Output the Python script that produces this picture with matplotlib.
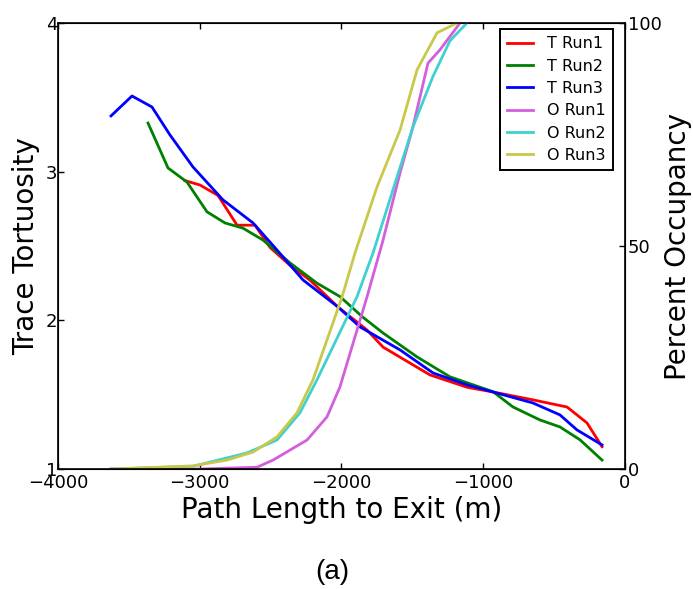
import matplotlib
matplotlib.use("Agg")
import matplotlib.pyplot as plt

# Tortuosity series
t1_x = [-3104, -2998, -2871, -2737, -2610, -2504, -2363, -2222, -2025, -1820, -1707, -1376, -1115, -931, -649, -409, -268, -162]
t1_y = [2.94, 2.91, 2.84, 2.64, 2.64, 2.49, 2.37, 2.27, 2.09, 1.935, 1.82, 1.633, 1.55, 1.518, 1.465, 1.417, 1.31, 1.15]
t2_x = [-3365, -3224, -3090, -2949, -2822, -2695, -2554, -2363, -2173, -2011, -1848, -1707, -1467, -1235, -931, -790, -600, -459, -317, -162]
t2_y = [3.327, 3.025, 2.93, 2.73, 2.655, 2.62, 2.54, 2.386, 2.25, 2.16, 2.02, 1.915, 1.754, 1.62, 1.52, 1.417, 1.33, 1.283, 1.196, 1.06]
t3_x = [-3626, -3478, -3337, -3210, -3048, -2836, -2624, -2455, -2272, -2025, -1870, -1587, -1354, -1115, -931, -649, -459, -339, -162]
t3_y = [3.375, 3.509, 3.435, 3.247, 3.032, 2.81, 2.655, 2.473, 2.272, 2.09, 1.956, 1.801, 1.646, 1.566, 1.518, 1.444, 1.364, 1.263, 1.162]

# Occupancy series
o1_x = [-3626, -2998, -2596, -2483, -2243, -2102, -2011, -1820, -1707, -1587, -1496, -1390, -1305, -1164]
o1_y = [0, 0, 0.4, 2, 6.5, 11.7, 18.4, 38.6, 51.3, 66.4, 76.7, 91, 94, 100]
o2_x = [-3626, -3048, -2667, -2455, -2293, -2173, -1891, -1778, -1608, -1496, -1355, -1235, -1115]
o2_y = [0, 0.6, 3.6, 6.5, 12.6, 20, 38.6, 48.4, 65.5, 76.7, 88, 96, 100]
o3_x = [-3619, -3048, -2808, -2624, -2455, -2314, -2201, -1996, -1905, -1750, -1587, -1467, -1326, -1185]
o3_y = [0, 0.7, 2, 3.8, 7.2, 12.6, 20, 38.6, 48.4, 63.2, 76, 89.5, 97.8, 100]

plt.rcParams['font.family'] = ['DejaVu Sans']
plt.rcParams['xtick.direction'] = 'in'
plt.rcParams['ytick.direction'] = 'in'

fig = plt.figure(figsize=(6.93, 5.89), dpi=100)
ax = fig.add_axes([58/693, 1-469/589, (625-58)/693, (469-23)/589])
ax2 = ax.twinx()

lw = 2
h1, = ax.plot(t1_x, t1_y, color='#ff0000', lw=lw, label='T Run1')
h2, = ax.plot(t2_x, t2_y, color='#008000', lw=lw, label='T Run2')
h3, = ax.plot(t3_x, t3_y, color='#0000ff', lw=lw, label='T Run3')
h4, = ax2.plot(o1_x, o1_y, color='#d35fdc', lw=lw, label='O Run1')
h5, = ax2.plot(o2_x, o2_y, color='#40d0d0', lw=lw, label='O Run2')
h6, = ax2.plot(o3_x, o3_y, color='#c8c84a', lw=lw, label='O Run3')

ax.set_xlim(-4000, 0)
ax.set_ylim(1, 4)
ax2.set_ylim(0, 100)
ax.set_xticks([-4000, -3000, -2000, -1000, 0])
ax.set_yticks([1, 2, 3, 4])
ax2.set_yticks([0, 50, 100])
for a in (ax, ax2):
    a.tick_params(labelsize=13, length=4, width=1)
ax.tick_params(axis='y', pad=0.5)
ax2.tick_params(axis='y', pad=2)
ax.tick_params(top=True)
for s in ax2.spines.values():
    s.set_linewidth(1.2)
ax.set_xlabel('Path Length to Exit (m)', fontsize=20, labelpad=3)
ax.set_ylabel('Trace Tortuosity', fontsize=20, labelpad=4)
ax2.set_ylabel('Percent Occupancy', fontsize=20, labelpad=2)

leg = ax2.legend(handles=[h1, h2, h3, h4, h5, h6], loc='upper right',
                 bbox_to_anchor=((613-58)/567, (469-29)/446), borderaxespad=0,
                 fontsize=11.5, fancybox=False, edgecolor='black', framealpha=1,
                 handlelength=1.6, handletextpad=0.9, labelspacing=0.46, borderpad=0.45)
leg.get_frame().set_linewidth(1.4)

fig.text(332/693, 1-572/589, '(a)', fontsize=20, family='Liberation Sans', ha='center', va='center')

fig.savefig('out.png', dpi=100)
